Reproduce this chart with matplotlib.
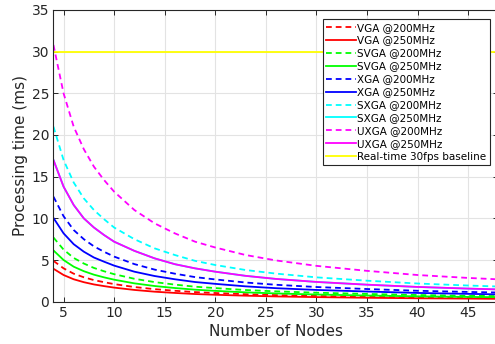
import matplotlib
matplotlib.use("Agg")
import matplotlib.pyplot as plt

# =========================
# Data
# =========================

nodes = [4, 5, 6, 7, 8, 9, 10, 12, 14, 16, 18, 20, 23, 26, 30, 35, 40, 45, 48]

vga_200 = [4.9, 4.0, 3.36, 2.93, 2.59, 2.34, 2.11, 1.76, 1.5, 1.31, 1.15, 1.04, 0.9, 0.79, 0.69, 0.59, 0.51, 0.46, 0.43]
vga_250 = [3.95, 3.2, 2.69, 2.34, 2.07, 1.87, 1.69, 1.41, 1.2, 1.05, 0.92, 0.83, 0.72, 0.63, 0.55, 0.47, 0.41, 0.37, 0.34]
svga_200 = [7.7, 6.25, 5.25, 4.58, 4.05, 3.65, 3.3, 2.75, 2.35, 2.05, 1.8, 1.63, 1.4, 1.24, 1.08, 0.93, 0.8, 0.71, 0.67]
svga_250 = [6.15, 5.0, 4.2, 3.66, 3.24, 2.92, 2.64, 2.2, 1.88, 1.64, 1.44, 1.3, 1.12, 0.99, 0.86, 0.74, 0.64, 0.57, 0.54]
xga_200 = [12.6, 10.25, 8.6, 7.5, 6.64, 5.99, 5.41, 4.51, 3.85, 3.36, 2.95, 2.67, 2.3, 2.03, 1.76, 1.52, 1.31, 1.17, 1.1]
xga_250 = [10.05, 8.2, 6.9, 6.0, 5.3, 4.8, 4.33, 3.6, 3.08, 2.69, 2.36, 2.14, 1.84, 1.62, 1.41, 1.22, 1.05, 0.94, 0.88]
sxga_200 = [21.0, 17.0, 14.3, 12.4, 11.0, 9.9, 8.9, 7.5, 6.4, 5.6, 4.9, 4.4, 3.8, 3.37, 2.92, 2.52, 2.18, 1.94, 1.82]
sxga_250 = [17.0, 13.8, 11.6, 10.0, 8.9, 8.0, 7.2, 6.1, 5.2, 4.5, 4.0, 3.6, 3.1, 2.73, 2.37, 2.04, 1.77, 1.57, 1.47]
uxga_200 = [30.8, 25.0, 21.0, 18.3, 16.2, 14.6, 13.2, 11.0, 9.4, 8.2, 7.2, 6.5, 5.6, 4.95, 4.3, 3.7, 3.2, 2.85, 2.68]
uxga_250 = [17.0, 13.8, 11.6, 10.0, 8.9, 8.0, 7.2, 6.1, 5.2, 4.5, 4.0, 3.6, 3.1, 2.73, 2.37, 2.04, 1.77, 1.57, 1.47]
baseline = [30] * len(nodes)

series = [
    ("VGA @200MHz", vga_200, "#ff0000", "--"),
    ("VGA @250MHz", vga_250, "#ff0000", "-"),
    ("SVGA @200MHz", svga_200, "#00ff00", "--"),
    ("SVGA @250MHz", svga_250, "#00ff00", "-"),
    ("XGA @200MHz", xga_200, "#0000ff", "--"),
    ("XGA @250MHz", xga_250, "#0000ff", "-"),
    ("SXGA @200MHz", sxga_200, "#00ffff", "--"),
    ("SXGA @250MHz", sxga_250, "#00ffff", "-"),
    ("UXGA @200MHz", uxga_200, "#ff00ff", "--"),
    ("UXGA @250MHz", uxga_250, "#ff00ff", "-"),
    ("Real-time 30fps baseline", baseline, "#ffff00", "-"),
]

# =========================
# Plot
# =========================

fig = plt.figure(figsize=(4.95, 3.44), dpi=100)
ax = fig.add_axes([0.108, 0.123, 0.899, 0.848])

for label, values, color, style in series:
    if style == "--":
        ax.plot(nodes, values, color=color, lw=1.3, linestyle=(0, (3.2, 2.2)), label=label)
    else:
        ax.plot(nodes, values, color=color, lw=1.3, label=label)

ax.set_xlim(4, 48)
ax.set_ylim(0, 35)
ax.set_xticks(range(5, 50, 5))
ax.set_yticks(range(0, 40, 5))

ax.grid(True, color="#e3e3e3", lw=0.8)
ax.set_axisbelow(True)

for side in ax.spines.values():
    side.set_color("#262626")
    side.set_linewidth(0.8)

ax.tick_params(direction="in", length=3.5, width=0.7, colors="#262626",
               labelsize=10, top=True, right=True, pad=3)

ax.set_xlabel("Number of Nodes", fontsize=11, color="#262626", labelpad=3)
ax.set_ylabel("Processing time (ms)", fontsize=11, color="#262626", labelpad=3)

leg = ax.legend(loc="upper right", bbox_to_anchor=(490 / 495, 1 - 19 / 344),
                bbox_transform=fig.transFigure, borderaxespad=0,
                fontsize=7.5, handlelength=2.8, handletextpad=0.15,
                labelspacing=0.28, borderpad=0.35, fancybox=False,
                framealpha=1, edgecolor="#262626")
leg.get_frame().set_linewidth(0.8)

fig.savefig("out.png", dpi=100)
